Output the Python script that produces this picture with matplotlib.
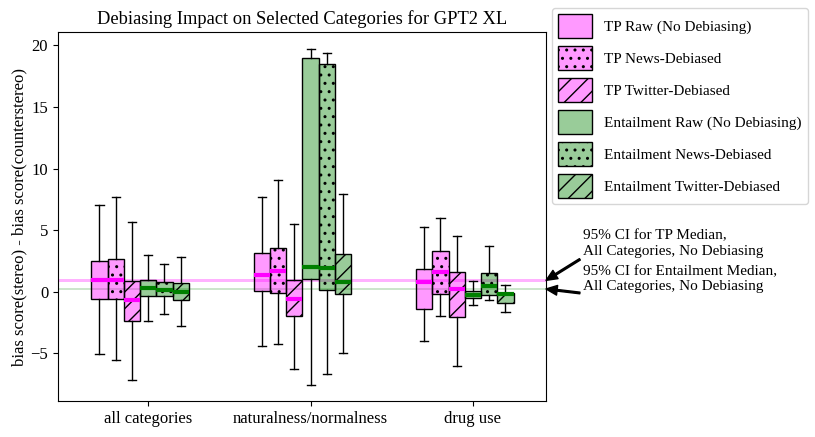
import numpy as np
import matplotlib
matplotlib.use("Agg")
import matplotlib.pyplot as plt
from matplotlib.patches import Patch

plt.rcParams['font.family'] = ['Liberation Serif', 'DejaVu Serif']

categories = ["all categories", "naturalness/normalness", "drug use"]
series = ["TP Raw (No Debiasing)", "TP News-Debiased", "TP Twitter-Debiased",
          "Entailment Raw (No Debiasing)", "Entailment News-Debiased",
          "Entailment Twitter-Debiased"]

# box stats per series, one value per category: [whislo, q1, med, q3, whishi]
tp_raw = [[-5.1, -0.6, 0.98, 2.5, 7.05],
          [-4.4, 0.05, 1.38, 3.14, 7.72],
          [-4.0, -1.41, 0.79, 1.84, 5.28]]
tp_news = [[-5.55, -0.6, 0.95, 2.66, 7.67],
           [-4.25, -0.1, 1.65, 3.55, 9.08],
           [-1.98, -0.19, 1.6, 3.31, 6.02]]
tp_twitter = [[-7.18, -2.36, -0.65, 0.89, 5.69],
              [-6.29, -1.98, -0.62, 0.98, 5.53],
              [-6.04, -2.06, 0.19, 1.63, 4.55]]
ent_raw = [[-2.39, -0.35, 0.33, 0.95, 3.0],
           [-7.56, 1.03, 2.03, 19.0, 19.73],
           [-1.08, -0.51, -0.24, 0.03, 0.87]]
ent_news = [[-1.82, -0.33, 0.16, 0.79, 2.28],
            [-6.69, 0.16, 1.95, 18.5, 19.4],
            [-0.68, -0.3, 0.43, 1.54, 3.74]]
ent_twitter = [[-2.79, -0.68, 0.0, 0.68, 2.82],
               [-4.99, -0.19, 0.76, 3.06, 7.94],
               [-1.63, -0.89, -0.22, -0.08, 0.54]]

# 95% CI of the median, all categories, no debiasing
tp_ci = (0.8, 1.03)
ent_ci = (0.16, 0.27)

all_series = [tp_raw, tp_news, tp_twitter, ent_raw, ent_news, ent_twitter]
face_colors = [(1, 0, 1, 0.4)] * 3 + [(0, 0.5, 0, 0.4)] * 3
median_colors = ['magenta'] * 3 + ['green'] * 3
hatches = ['', '..', '//', '', '..', '//']

fig, ax = plt.subplots(figsize=(8.15, 4.37), dpi=100)
plt.rcParams['hatch.linewidth'] = 1.0

x = np.arange(len(categories))
width = 0.1
for j, data in enumerate(all_series):
    stats = []
    for vals in data:
        lo, q1, med, q3, hi = vals
        stats.append(dict(whislo=lo, q1=q1, med=med, q3=q3, whishi=hi, fliers=[]))
    pos = x + (j - 3) * width
    bp = ax.bxp(stats, positions=pos, widths=width, patch_artist=True,
                showfliers=False, manage_ticks=False,
                medianprops=dict(color=median_colors[j], linewidth=3))
    for box in bp['boxes']:
        box.set_facecolor(face_colors[j])
        box.set_edgecolor('black')
        box.set_hatch(hatches[j])

ax.axhspan(tp_ci[0], tp_ci[1], color='magenta', alpha=0.3, lw=0, zorder=0)
ax.axhspan(ent_ci[0], ent_ci[1], color='green', alpha=0.2, lw=0, zorder=0)

ax.set_xticks(x)
ax.set_xticklabels(categories, fontsize=12)
ax.tick_params(axis='y', labelsize=12)
ax.set_xlim(-0.556, 2.45)
ax.set_ylim(-8.9, 21.1)
ax.set_ylabel('bias score(stereo) - bias score(counterstereo)', fontsize=12, labelpad=2)
ax.set_title('Debiasing Impact on Selected Categories for GPT2 XL', fontsize=13.3)

handles = [Patch(facecolor=face_colors[j], edgecolor='black', hatch=hatches[j], label=series[j])
           for j in range(len(series))]
ax.legend(handles=handles, loc='upper left', bbox_to_anchor=(0.997, 1.085),
          fontsize=11, handlelength=2.2, handleheight=2.0, labelspacing=0.55)

arrow = dict(facecolor='black', edgecolor='black', width=1.2, headwidth=7,
             headlength=8, shrink=0.0)
ax.annotate('95% CI for TP Median,\nAll Categories, No Debiasing',
            xy=(1.0, np.mean(tp_ci)), xycoords=('axes fraction', 'data'),
            xytext=(1.075, 3.9), textcoords=('axes fraction', 'data'),
            fontsize=11, va='center', ha='left', arrowprops=arrow,
            annotation_clip=False)
ax.annotate('95% CI for Entailment Median,\nAll Categories, No Debiasing',
            xy=(1.0, np.mean(ent_ci)), xycoords=('axes fraction', 'data'),
            xytext=(1.075, 1.0), textcoords=('axes fraction', 'data'),
            fontsize=11, va='center', ha='left', arrowprops=arrow,
            annotation_clip=False)

fig.subplots_adjust(left=0.071, right=0.67, top=0.927, bottom=0.082)
fig.savefig('out.png', dpi=100)
